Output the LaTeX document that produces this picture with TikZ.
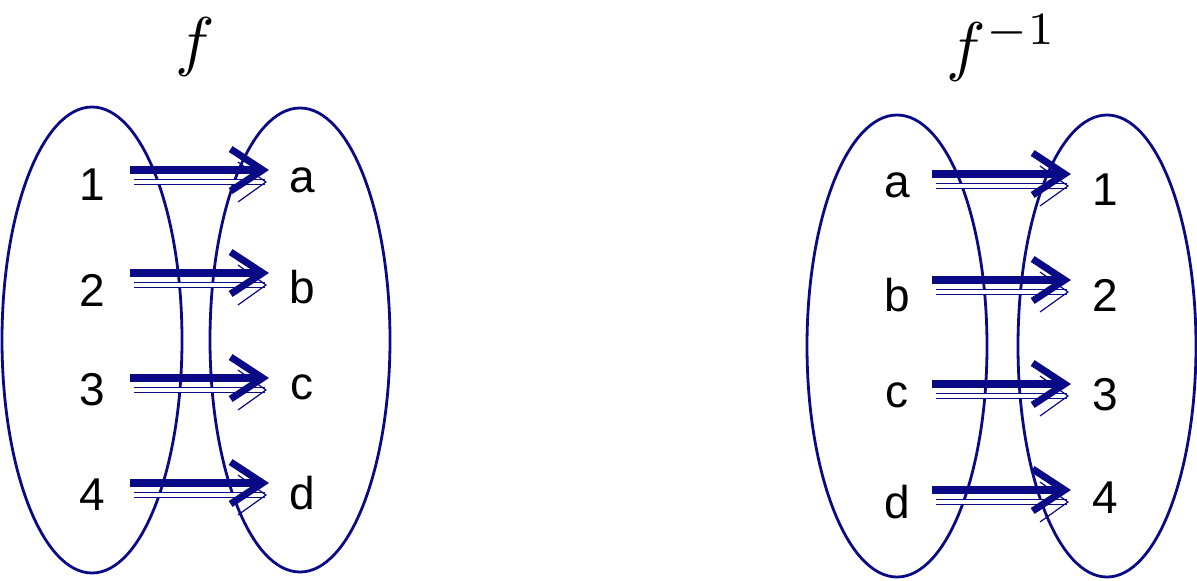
\documentclass[tikz,border=0pt]{standalone}
\usepackage{graphicx}
\usepackage{fontspec}
\setmainfont{Liberation Sans}
\usetikzlibrary{arrows.meta}
\definecolor{nv}{RGB}{10,10,135}
\tikzset{
  ell/.style={draw=nv, line width=2.8pt},
  lbl/.style={font=\fontsize{46}{50}\selectfont, inner sep=0pt},
  ttl/.style={inner sep=0pt},
  mainarr/.style={draw=nv, line width=8pt, -{Straight Barb[length=32pt,width=42pt,line width=7pt]}},
  shadarr/.style={draw=nv, line width=1.2pt, double=white, double distance=4.5pt, -{Straight Barb[length=28pt,width=40pt]}}
}
\begin{document}
\begin{tikzpicture}[x=1pt,y=-1pt]
\useasboundingbox (0,0) rectangle (1197,581);
% left diagram
\draw[ell] (92,340) ellipse [x radius=90, y radius=233];
\draw[ell] (300,340) ellipse [x radius=90, y radius=232];
\node[ttl] (tf) at (195,47) {\scalebox{6.6}{$f$}};
\foreach \i/\l/\r/\yl/\yr/\ya in {1/1/a/185/180/170, 2/2/b/290/287/273, 3/3/c/390/387/378, 4/4/d/495/493/483}{
  \node[lbl] (L\i) at (92,\yl) {\l};
  \node[lbl] (R\i) at (302,\yr) {\r};
  \coordinate (s\i) at (130,\ya);
  \coordinate (e\i) at (269,\ya);
  \coordinate (ss\i) at (134,\ya+12);
  \coordinate (se\i) at (267,\ya+12);
  \draw[shadarr] (ss\i) -- (se\i);
  \draw[mainarr] (s\i) -- (e\i);
}
% right diagram
\draw[ell] (897,346) ellipse [x radius=90, y radius=231];
\draw[ell] (1107,346) ellipse [x radius=89, y radius=231];
\node[ttl] (tg) at (1002,48) {\scalebox{6.6}{$f^{-1}$}};
\foreach \i/\l/\r/\yl/\yr/\ya in {1/a/1/185/190/174, 2/b/2/295/295/280, 3/c/3/395/395/384, 4/d/4/502/498/490}{
  \node[lbl] (LL\i) at (897,\yl) {\l};
  \node[lbl] (RR\i) at (1105,\yr) {\r};
  \coordinate (t\i) at (932,\ya);
  \coordinate (u\i) at (1071,\ya);
  \coordinate (tt\i) at (936,\ya+12);
  \coordinate (uu\i) at (1069,\ya+12);
  \draw[shadarr] (tt\i) -- (uu\i);
  \draw[mainarr] (t\i) -- (u\i);
}
\end{tikzpicture}
\end{document}
